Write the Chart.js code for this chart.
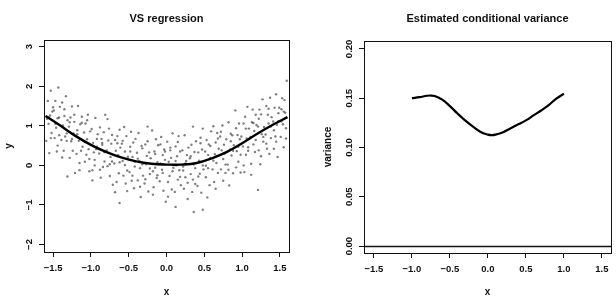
<!DOCTYPE html>
<html>
<head>
<meta charset="utf-8">
<script src="https://cdn.jsdelivr.net/npm/chart.js@4.4.0/dist/chart.umd.min.js"></script>
<style>
  html, body { margin: 0; padding: 0; background: #fff; }
  #wrap { position: relative; width: 616px; height: 306px; }
  #vsChart { position: absolute; left: 0; top: 0; }
  #varChart { position: absolute; left: 306px; top: 0; }
</style>
</head>
<body>
<div id="wrap">
  <canvas id="vsChart" width="306" height="306"></canvas>
  <canvas id="varChart" width="310" height="306"></canvas>
</div>
<script>
// ---- data ----
const xTicks = [-1.5, -1.0, -0.5, 0.0, 0.5, 1.0, 1.5];
const vsYTicks = [-2, -1, 0, 1, 2, 3];
const varYTicks = [0.00, 0.05, 0.10, 0.15, 0.20];

// fitted regression curve (left panel)
const fitX = [-1.6, -1.4, -1.2, -1.0, -0.8, -0.6, -0.4, -0.2, 0.0, 0.2, 0.4, 0.6, 0.8, 1.0, 1.2, 1.4, 1.6];
const fitY = [1.25, 1.00, 0.74, 0.52, 0.34, 0.20, 0.10, 0.04, 0.02, 0.02, 0.06, 0.18, 0.34, 0.56, 0.80, 1.02, 1.22];

// sample of the point cloud (left panel)
const cloudX = [
  -1.59,-1.57,-1.56,-1.54,-1.53,-1.52,-1.51,-1.58,-1.55,-1.50,-1.56,-1.53,
  -1.49,-1.48,-1.47,-1.46,-1.45,-1.44,-1.43,-1.42,-1.41,-1.47,-1.44,-1.42,
  -1.39,-1.38,-1.37,-1.36,-1.35,-1.34,-1.33,-1.32,-1.31,-1.38,-1.35,-1.32,
  -1.29,-1.28,-1.27,-1.26,-1.25,-1.24,-1.23,-1.22,-1.21,-1.28,-1.25,-1.22,
  -1.19,-1.18,-1.17,-1.16,-1.15,-1.14,-1.13,-1.12,-1.11,-1.18,-1.15,-1.12,
  -1.09,-1.08,-1.07,-1.06,-1.05,-1.04,-1.03,-1.02,-1.01,-1.08,-1.05,-1.02,
  -0.99,-0.98,-0.97,-0.96,-0.95,-0.94,-0.93,-0.92,-0.91,-0.98,-0.95,-0.92,
  -0.89,-0.88,-0.87,-0.86,-0.85,-0.84,-0.83,-0.82,-0.81,-0.88,-0.85,-0.82,
  -0.79,-0.78,-0.77,-0.76,-0.75,-0.74,-0.73,-0.72,-0.71,-0.78,-0.75,-0.72,
  -0.69,-0.68,-0.67,-0.66,-0.65,-0.64,-0.63,-0.62,-0.61,-0.68,-0.65,-0.62,
  -0.59,-0.58,-0.57,-0.56,-0.55,-0.54,-0.53,-0.52,-0.51,-0.58,-0.55,-0.52,
  -0.49,-0.48,-0.47,-0.46,-0.45,-0.44,-0.43,-0.42,-0.41,-0.48,-0.45,-0.42,
  -0.39,-0.38,-0.37,-0.36,-0.35,-0.34,-0.33,-0.32,-0.31,-0.38,-0.35,-0.32,
  -0.29,-0.28,-0.27,-0.26,-0.25,-0.24,-0.23,-0.22,-0.21,-0.28,-0.25,-0.22,
  -0.19,-0.18,-0.17,-0.16,-0.15,-0.14,-0.13,-0.12,-0.11,-0.18,-0.15,-0.12,
  -0.09,-0.08,-0.07,-0.06,-0.05,-0.04,-0.03,-0.02,-0.01,-0.08,-0.05,-0.02,
  0.01,0.02,0.03,0.04,0.05,0.06,0.07,0.08,0.09,0.02,0.05,0.08,
  0.11,0.12,0.13,0.14,0.15,0.16,0.17,0.18,0.19,0.12,0.15,0.18,
  0.21,0.22,0.23,0.24,0.25,0.26,0.27,0.28,0.29,0.22,0.25,0.28,
  0.31,0.32,0.33,0.34,0.35,0.36,0.37,0.38,0.39,0.32,0.35,0.38,
  0.41,0.42,0.43,0.44,0.45,0.46,0.47,0.48,0.49,0.42,0.45,0.48,
  0.51,0.52,0.53,0.54,0.55,0.56,0.57,0.58,0.59,0.52,0.55,0.58,
  0.61,0.62,0.63,0.64,0.65,0.66,0.67,0.68,0.69,0.62,0.65,0.68,
  0.71,0.72,0.73,0.74,0.75,0.76,0.77,0.78,0.79,0.72,0.75,0.78,
  0.81,0.82,0.83,0.84,0.85,0.86,0.87,0.88,0.89,0.82,0.85,0.88,
  0.91,0.92,0.93,0.94,0.95,0.96,0.97,0.98,0.99,0.92,0.95,0.98,
  1.01,1.02,1.03,1.04,1.05,1.06,1.07,1.08,1.09,1.02,1.05,1.08,
  1.11,1.12,1.13,1.14,1.15,1.16,1.17,1.18,1.19,1.12,1.15,1.18,
  1.21,1.22,1.23,1.24,1.25,1.26,1.27,1.28,1.29,1.22,1.25,1.28,
  1.31,1.32,1.33,1.34,1.35,1.36,1.37,1.38,1.39,1.32,1.35,1.38,
  1.41,1.42,1.43,1.44,1.45,1.46,1.47,1.48,1.49,1.42,1.45,1.48,
  1.51,1.52,1.53,1.54,1.55,1.56,1.57,1.58,1.59,1.52,1.55,1.58,
  0.48,-0.62,0.12,1.21,-1.31,0.36
];
const cloudY = [
  0.62,1.63,1.05,1.26,1.89,0.82,1.36,1.18,0.31,1.47,1.22,0.69,
  1.39,0.69,1.63,0.95,0.35,1.19,1.97,0.76,1.48,1.05,0.50,1.21,
  0.64,1.59,1.01,0.37,1.25,0.73,1.75,0.81,1.14,0.20,1.42,0.62,
  0.98,0.19,1.21,0.61,1.49,0.37,0.81,1.28,-0.19,1.09,0.67,1.10,
  0.29,0.89,1.50,0.62,0.06,1.04,0.37,1.23,0.47,0.79,-0.12,1.08,
  0.83,0.09,1.06,0.27,0.66,1.28,0.41,-0.15,0.86,0.59,1.14,0.16,
  0.92,-0.12,0.57,0.33,0.14,1.20,0.41,0.67,0.79,-0.38,0.00,0.47,
  0.30,0.96,-0.31,0.67,0.52,-0.04,0.84,0.10,1.28,-0.11,0.57,0.33,
  0.38,-0.02,0.63,0.93,-0.27,0.21,0.55,0.10,-0.49,1.17,0.03,0.77,
  0.05,0.64,0.37,-0.42,0.74,0.26,-0.20,0.90,0.45,-0.68,0.56,0.08,
  0.55,0.11,-0.26,0.97,0.35,-0.46,0.74,-0.13,0.22,0.62,0.01,-0.65,
  -0.17,0.35,0.85,-0.39,0.21,0.58,-0.58,-0.03,0.67,0.47,-0.26,0.09,
  0.32,-0.38,0.82,0.11,-0.07,-0.80,0.49,0.43,-0.26,0.17,-0.54,0.03,
  -0.46,0.53,0.03,0.24,0.98,-0.66,0.33,-0.22,0.18,-0.35,0.61,-0.08,
  0.88,-0.15,-0.55,0.35,-0.06,0.66,-0.32,0.08,0.51,-0.74,0.29,-0.25,
  -0.40,0.05,0.72,-0.11,0.26,-0.64,0.40,0.14,-0.92,0.53,-0.19,0.35,
  0.60,-0.79,0.09,-0.27,0.45,0.19,-0.61,0.81,-0.06,-0.42,0.38,-0.15,
  -0.67,0.48,0.00,0.23,-0.36,0.74,-0.12,0.35,-0.50,0.11,0.59,-0.29,
  0.38,-0.03,-0.59,0.76,-0.30,0.11,0.26,-0.85,0.45,-0.13,0.05,-0.44,
  0.18,-0.22,0.52,-0.67,0.98,0.02,0.34,-0.47,0.61,0.23,-0.36,-0.07,
  -0.52,0.33,0.12,-0.21,0.70,-0.69,0.40,0.93,-0.10,-0.28,0.56,0.00,
  0.35,-0.01,0.64,-0.81,0.26,0.53,-0.50,0.19,0.86,-0.30,-0.07,0.49,
  -0.10,0.99,-0.42,0.28,0.58,0.06,0.82,-0.19,0.42,0.12,-0.59,0.68,
  0.73,-0.10,0.38,1.01,-0.39,0.52,0.30,-0.19,0.66,0.85,0.16,0.02,
  0.02,1.09,-0.51,0.40,0.80,0.25,0.76,-0.20,0.51,-0.11,0.61,0.37,
  1.39,-0.05,0.36,0.77,0.09,1.06,0.66,-0.18,0.73,0.94,0.47,0.27,
  0.48,1.06,-0.17,1.23,0.27,0.68,1.48,0.37,0.93,0.00,0.93,0.46,
  0.72,-0.24,1.09,1.41,0.53,0.87,0.34,1.28,1.02,0.04,1.07,0.64,
  0.98,0.38,1.41,0.03,1.29,0.79,1.67,0.60,0.97,1.18,0.23,0.72,
  0.78,1.50,0.42,1.28,1.06,0.29,1.71,0.69,1.22,0.55,1.43,0.98,
  1.11,0.42,1.46,0.73,1.80,1.03,0.21,1.32,1.46,0.89,0.60,1.12,
  0.72,1.42,1.70,1.04,0.46,1.65,1.33,0.94,2.14,1.11,1.36,0.68,
  -1.12,-0.95,-1.05,-0.62,-0.28,-1.18
];

// estimated conditional variance (right panel)
const varX = [-1.0, -0.9, -0.8, -0.75, -0.7, -0.6, -0.5, -0.4, -0.3, -0.2, -0.1, 0.0, 0.05, 0.1, 0.2, 0.3, 0.4, 0.5, 0.6, 0.7, 0.8, 0.9, 1.0];
const varY = [0.1500, 0.1510, 0.1525, 0.1527, 0.1522, 0.1485, 0.1420, 0.1345, 0.1275, 0.1215, 0.1160, 0.1130, 0.1125, 0.1130, 0.1155, 0.1195, 0.1235, 0.1275, 0.1325, 0.1375, 0.1430, 0.1495, 0.1545];
const varBaseline = 0;

// ---- helpers ----
const FONT = '"Liberation Sans", Arial, Helvetica, sans-serif';
const INK = '#111';

function fmtNum(v, d) {
  return (v < 0 ? '\u2212' : '') + Math.abs(v).toFixed(d);
}

// R-like frame, main title, rotated y labels and optional h-line
const rFrame = {
  id: 'rFrame',
  afterDraw(chart, args, opts) {
    const { ctx, chartArea: a } = chart;
    const y = chart.scales.y;
    ctx.save();
    ctx.strokeStyle = INK;
    ctx.lineWidth = 1;
    ctx.strokeRect(Math.round(a.left) + 0.5, Math.round(a.top) + 0.5,
      Math.round(a.right - a.left), Math.round(a.bottom - a.top));

    if (opts.hline !== undefined) {
      const py = Math.round(y.getPixelForValue(opts.hline)) + 0.5;
      ctx.lineWidth = 1.5;
      ctx.beginPath();
      ctx.moveTo(a.left, py);
      ctx.lineTo(a.right, py);
      ctx.stroke();
    }

    ctx.fillStyle = INK;
    ctx.font = 'bold 11px ' + FONT;
    ctx.textAlign = 'center';
    ctx.textBaseline = 'alphabetic';
    ctx.fillText(opts.title, (a.left + a.right) / 2, 21.5);

    ctx.font = 'bold 9.5px ' + FONT;
    ctx.textBaseline = 'middle';
    y.ticks.forEach(t => {
      const py = y.getPixelForValue(t.value);
      ctx.save();
      ctx.translate(a.left - 15, py);
      ctx.rotate(-Math.PI / 2);
      ctx.fillText(fmtNum(t.value, opts.decimals), 0, 0);
      ctx.restore();
    });
    ctx.restore();
  }
};

function xAxis(min, max, height) {
  return {
    type: 'linear',
    min: min,
    max: max,
    border: { display: false },
    grid: { drawOnChartArea: false, drawTicks: true, tickLength: 5, color: INK, lineWidth: 1 },
    ticks: {
      color: INK,
      padding: 6,
      maxRotation: 0,
      font: { family: FONT, size: 9.5, weight: 'bold' },
      callback: v => fmtNum(v, 1)
    },
    afterBuildTicks: s => { s.ticks = xTicks.map(v => ({ value: v })); },
    afterFit: s => { s.height = height; },
    title: {
      display: true,
      text: 'x',
      color: INK,
      font: { family: FONT, size: 10, weight: 'bold' },
      padding: { top: 0, bottom: 8 }
    }
  };
}

function yAxis(min, max, ticks, width, label, titlePad) {
  return {
    type: 'linear',
    min: min,
    max: max,
    border: { display: false },
    grid: { drawOnChartArea: false, drawTicks: true, tickLength: 5, color: INK, lineWidth: 1 },
    ticks: { display: false },
    afterBuildTicks: s => { s.ticks = ticks.map(v => ({ value: v })); },
    afterFit: s => { s.width = width; },
    title: {
      display: true,
      text: label,
      color: INK,
      font: { family: FONT, size: 10, weight: 'bold' },
      padding: { top: titlePad, bottom: 0 }
    }
  };
}

const baseOptions = {
  responsive: false,
  animation: false,
  events: [],
  plugins: { legend: { display: false }, tooltip: { enabled: false } }
};

// ---- left: VS regression ----
new Chart(document.getElementById('vsChart'), {
  type: 'scatter',
  data: {
    datasets: [
      {
        type: 'line',
        data: fitX.map((x, i) => ({ x: x, y: fitY[i] })),
        borderColor: '#000',
        borderWidth: 2.4,
        pointRadius: 0,
        tension: 0.4,
        fill: false
      },
      {
        type: 'scatter',
        data: cloudX.map((x, i) => ({ x: x, y: cloudY[i] })),
        backgroundColor: 'rgba(0,0,0,0.5)',
        borderWidth: 0,
        pointRadius: 1.2
      }
    ]
  },
  options: Object.assign({}, baseOptions, {
    layout: { padding: { left: 0, right: 17, top: 40, bottom: 0 } },
    scales: {
      x: xAxis(-1.62, 1.62, 54),
      y: yAxis(-2.19, 3.17, vsYTicks, 44, 'y', 3)
    },
    plugins: Object.assign({}, baseOptions.plugins, {
      rFrame: { title: 'VS regression', decimals: 0 }
    })
  }),
  plugins: [rFrame]
});

// ---- right: estimated conditional variance ----
new Chart(document.getElementById('varChart'), {
  type: 'line',
  data: {
    datasets: [
      {
        data: varX.map((x, i) => ({ x: x, y: varY[i] })),
        borderColor: '#000',
        borderWidth: 2.2,
        pointRadius: 0,
        tension: 0.4,
        fill: false
      }
    ]
  },
  options: Object.assign({}, baseOptions, {
    layout: { padding: { left: 0, right: 5, top: 41, bottom: 0 } },
    scales: {
      x: xAxis(-1.63, 1.62, 53),
      y: yAxis(-0.007, 0.208, varYTicks, 58, 'variance', 16)
    },
    plugins: Object.assign({}, baseOptions.plugins, {
      rFrame: { title: 'Estimated conditional variance', decimals: 2, hline: varBaseline }
    })
  }),
  plugins: [rFrame]
});
</script>
</body>
</html>
